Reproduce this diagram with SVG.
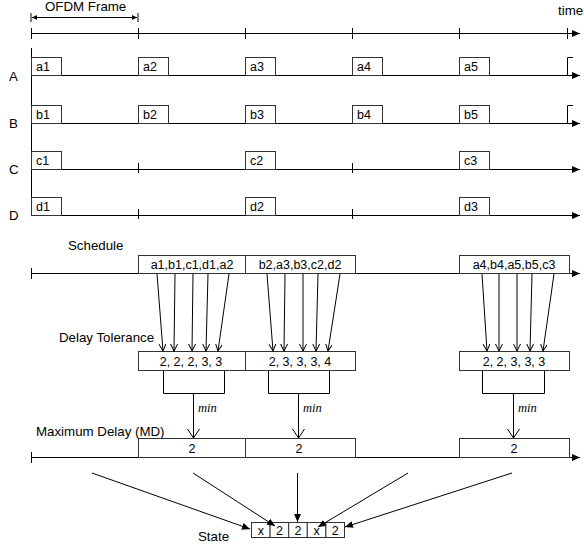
<svg xmlns="http://www.w3.org/2000/svg" width="584" height="552" viewBox="0 0 584 552">
<style>
text{font-family:"Liberation Sans",Arial,sans-serif;font-size:12.5px;fill:#000}
.t{font-size:13.3px}
.l{stroke:#000;stroke-width:1;fill:none}
.b{stroke:#333;stroke-width:1;fill:#fff}
.c{text-anchor:middle}
.m{font-family:"Liberation Serif","Times New Roman",serif;font-style:italic;font-size:12.5px}
</style>
<defs>
<marker id="af" markerUnits="userSpaceOnUse" markerWidth="9" markerHeight="8" refX="8" refY="3.5" orient="auto"><path d="M0,0 L8,3.5 L0,7 z" fill="#000"/></marker>
<marker id="as" markerUnits="userSpaceOnUse" markerWidth="6" markerHeight="6" refX="5" refY="2.5" orient="auto-start-reverse"><path d="M0,0 L5,2.5 L0,5 z" fill="#000"/></marker>
<marker id="av" markerUnits="userSpaceOnUse" markerWidth="9" markerHeight="8" refX="7" refY="3.5" orient="auto"><path d="M0,0 L7,3.5 L0,7" fill="none" stroke="#000"/></marker>
<marker id="avl" markerUnits="userSpaceOnUse" markerWidth="11" markerHeight="14" refX="9" refY="6" orient="auto"><path d="M0,0 L9,6 L0,12" fill="none" stroke="#000"/></marker>
</defs>

<g id="header">
<text class="t" x="45" y="11">OFDM Frame</text>
<line class="l" x1="31" y1="13" x2="31" y2="22"/>
<line class="l" x1="138" y1="13" x2="138" y2="22"/>
<line class="l" x1="32" y1="17.5" x2="137" y2="17.5" marker-start="url(#as)" marker-end="url(#as)"/>
<text class="t" x="558" y="15">time</text>
<line class="l" x1="31" y1="33.5" x2="580" y2="33.5" marker-end="url(#af)"/>
<path class="l" d="M31.5,28V39 M138.5,28V39 M245.5,28V39 M352.5,28V39 M459.5,28V39 M567.5,28V39"/>
</g>

<g id="rows">
<line class="l" x1="31.5" y1="48" x2="31.5" y2="215"/>
<text class="t" x="9" y="81">A</text>
<text class="t" x="9" y="128">B</text>
<text class="t" x="9" y="174">C</text>
<text class="t" x="9" y="220">D</text>
<line class="l" x1="31" y1="75.5" x2="580" y2="75.5" marker-end="url(#af)"/>
<line class="l" x1="31" y1="123.5" x2="580" y2="123.5" marker-end="url(#af)"/>
<line class="l" x1="31" y1="169.5" x2="580" y2="169.5" marker-end="url(#af)"/>
<line class="l" x1="31" y1="215.5" x2="580" y2="215.5" marker-end="url(#af)"/>
<path class="l" d="M567.5,75V57.5H573 M567.5,123V105.5H573 M138.5,163V173 M352.5,163V173 M138.5,209V219 M352.5,209V219"/>
</g>

<g id="rowA">
<rect class="b" x="31.5" y="57.5" width="30" height="18"/><text x="36" y="71">a1</text>
<rect class="b" x="138.5" y="57.5" width="30" height="18"/><text x="143" y="71">a2</text>
<rect class="b" x="245.5" y="57.5" width="30" height="18"/><text x="250" y="71">a3</text>
<rect class="b" x="352.5" y="57.5" width="30" height="18"/><text x="357" y="71">a4</text>
<rect class="b" x="459.5" y="57.5" width="30" height="18"/><text x="464" y="71">a5</text>
</g>
<g id="rowB">
<rect class="b" x="31.5" y="105.5" width="30" height="18"/><text x="36" y="119">b1</text>
<rect class="b" x="138.5" y="105.5" width="30" height="18"/><text x="143" y="119">b2</text>
<rect class="b" x="245.5" y="105.5" width="30" height="18"/><text x="250" y="119">b3</text>
<rect class="b" x="352.5" y="105.5" width="30" height="18"/><text x="357" y="119">b4</text>
<rect class="b" x="459.5" y="105.5" width="30" height="18"/><text x="464" y="119">b5</text>
</g>
<g id="rowC">
<rect class="b" x="31.5" y="151.5" width="30" height="18"/><text x="36" y="165">c1</text>
<rect class="b" x="245.5" y="151.5" width="30" height="18"/><text x="250" y="165">c2</text>
<rect class="b" x="459.5" y="151.5" width="30" height="18"/><text x="464" y="165">c3</text>
</g>
<g id="rowD">
<rect class="b" x="31.5" y="197.5" width="30" height="18"/><text x="36" y="211">d1</text>
<rect class="b" x="245.5" y="197.5" width="30" height="18"/><text x="250" y="211">d2</text>
<rect class="b" x="459.5" y="197.5" width="30" height="18"/><text x="464" y="211">d3</text>
</g>

<g id="schedule">
<text class="t" x="68" y="250">Schedule</text>
<line class="l" x1="31" y1="273.5" x2="580" y2="273.5" marker-end="url(#af)"/>
<line class="l" x1="31.5" y1="268" x2="31.5" y2="279"/>
<rect class="b" x="138.5" y="255.5" width="107" height="18"/><text class="c" x="192" y="269">a1,b1,c1,d1,a2</text>
<rect class="b" x="245.5" y="255.5" width="110" height="18"/><text class="c" x="300" y="269">b2,a3,b3,c2,d2</text>
<rect class="b" x="459.5" y="255.5" width="110" height="18"/><text class="c" x="514" y="269">a4,b4,a5,b5,c3</text>
</g>

<g id="delay">
<text class="t" x="59" y="342">Delay Tolerance</text>
<rect class="b" x="138.5" y="351.5" width="107" height="19"/><text class="c" x="191" y="366">2, 2, 2, 3, 3</text>
<rect class="b" x="245.5" y="351.5" width="110" height="19"/><text class="c" x="300" y="366">2, 3, 3, 3, 4</text>
<rect class="b" x="459.5" y="351.5" width="110" height="19"/><text class="c" x="514" y="366">2, 2, 3, 3, 3</text>
</g>

<g id="md">
<text class="t" x="36" y="436">Maximum Delay (MD)</text>
<line class="l" x1="31" y1="457.5" x2="580" y2="457.5" marker-end="url(#af)"/>
<line class="l" x1="31.5" y1="452" x2="31.5" y2="463"/>
<rect class="b" x="138.5" y="438.5" width="107" height="19"/><text class="c" x="192" y="453">2</text>
<rect class="b" x="245.5" y="438.5" width="110" height="19"/><text class="c" x="299" y="453">2</text>
<rect class="b" x="459.5" y="438.5" width="110" height="19"/><text class="c" x="514" y="453">2</text>
</g>

<g id="state">
<text class="t" x="198" y="541">State</text>
<rect class="b" x="251.5" y="522.5" width="18.6" height="15"/><text class="c" x="260.8" y="535">x</text>
<rect class="b" x="270.1" y="522.5" width="18.6" height="15"/><text class="c" x="279.4" y="535">2</text>
<rect class="b" x="288.7" y="522.5" width="18.6" height="15"/><text class="c" x="298" y="535">2</text>
<rect class="b" x="307.3" y="522.5" width="18.6" height="15"/><text class="c" x="316.6" y="535">x</text>
<rect class="b" x="325.9" y="522.5" width="18.6" height="15"/><text class="c" x="335.2" y="535">2</text>
</g>

<g id="connectors">
<g class="l" marker-end="url(#av)">
<line x1="157" y1="274" x2="163" y2="351"/>
<line x1="175" y1="274" x2="174" y2="351"/>
<line x1="193" y1="274" x2="192" y2="351"/>
<line x1="208" y1="274" x2="206" y2="351"/>
<line x1="229" y1="274" x2="218" y2="351"/>
<line x1="267" y1="274" x2="273" y2="351"/>
<line x1="285" y1="274" x2="284" y2="351"/>
<line x1="303" y1="274" x2="303" y2="351"/>
<line x1="318" y1="274" x2="316" y2="351"/>
<line x1="340" y1="274" x2="328" y2="351"/>
<line x1="482" y1="274" x2="487" y2="351"/>
<line x1="499" y1="274" x2="499" y2="351"/>
<line x1="517" y1="274" x2="517" y2="351"/>
<line x1="532" y1="274" x2="530" y2="351"/>
<line x1="554" y1="274" x2="543" y2="351"/>
</g>
<path class="l" d="M163.5,371V393.5H224.5V371 M268.5,371V393.5H329.5V371 M482.5,371V393.5H544.5V371"/>
<g class="l" marker-end="url(#avl)">
<line x1="193.5" y1="394" x2="193.5" y2="438"/>
<line x1="298.5" y1="394" x2="298.5" y2="438"/>
<line x1="513.5" y1="394" x2="513.5" y2="438"/>
</g>
<text class="m" x="198" y="412">min</text>
<text class="m" x="303" y="412">min</text>
<text class="m" x="518" y="412">min</text>
<g class="l" marker-end="url(#af)">
<line x1="92" y1="473" x2="250" y2="529"/>
<line x1="193" y1="473" x2="275" y2="526"/>
<line x1="297.5" y1="473" x2="297.5" y2="522"/>
<line x1="408" y1="473" x2="318" y2="527"/>
<line x1="512" y1="473" x2="345" y2="527"/>
</g>
</g>
</svg>
